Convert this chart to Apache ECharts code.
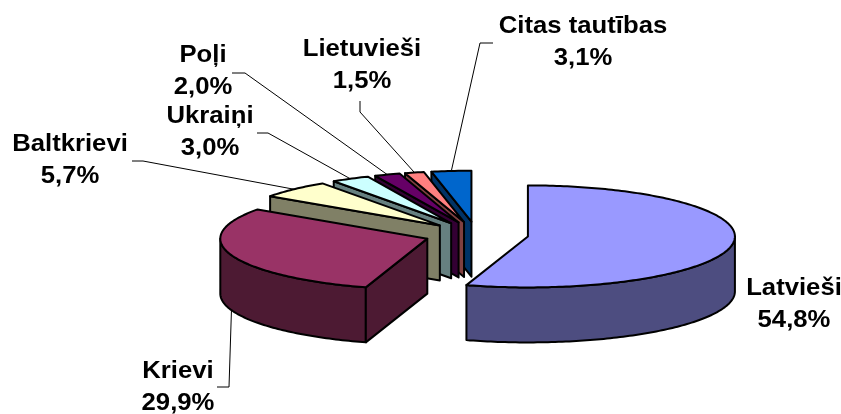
<!DOCTYPE html>
<html>
<head>
<meta charset="utf-8">
<style>
  html, body { margin: 0; padding: 0; background: #fff; }
  #chart { width: 841px; height: 414px; }
</style>
<script src="https://cdn.jsdelivr.net/npm/echarts@6/dist/echarts.min.js"></script>
</head>
<body>
<div id="chart"></div>
<script>
// data
const categories = ['Latvieši', 'Krievi', 'Baltkrievi', 'Ukraiņi', 'Poļi', 'Lietuvieši', 'Citas tautības']
const shares = [54.8, 29.9, 5.7, 3.0, 2.0, 1.5, 3.1]
const shareLabels = ['54,8%', '29,9%', '5,7%', '3,0%', '2,0%', '1,5%', '3,1%']

// colours: top of slice / its side
const topColors = ['#9999ff', '#993366', '#ffffcc', '#ccffff', '#660066', '#ff8080', '#0066cc']
const sideColors = ['#4d4d80', '#4d1a33', '#808066', '#668080', '#330033', '#804040', '#003366']

// label layout: text centre, and the leader line's free end and elbow
const labelCenters = [[794, 304], [178, 387], [70, 160.5], [210, 132], [203, 71.5], [362, 65], [583, 42]]
const leaderStarts = [null, [217, 387], [132, 161], [257, 133], [232, 73], [360, 101], [493, 43]]
const leaderElbows = [null, [229, 387], [143, 161], [268, 133], [245, 73], [360, 112], [480, 43]]

// pie geometry
const CENTER = [476.5, 234.5]
const RX = 207
const RY = 51
const DEPTH = 55
const EXPLODE = 52

const total = shares.reduce((a, b) => a + b, 0)
const startAngles = []
shares.reduce((acc, v, i) => {
  startAngles[i] = (acc / total) * 360
  return acc + v
}, 0)

// angle in degrees, clockwise from 12 o'clock
function onEllipse(c, deg, dy = 0) {
  const r = (deg * Math.PI) / 180
  return [c[0] + RX * Math.sin(r), c[1] - RY * Math.cos(r) + dy]
}

function arc(c, from, to, dy = 0) {
  const pts = []
  const steps = Math.max(2, Math.ceil(to - from))
  for (let k = 0; k <= steps; k++) {
    pts.push(onEllipse(c, from + ((to - from) * k) / steps, dy))
  }
  return pts
}

function face(points, fill, z2) {
  return {
    type: 'polygon',
    z2,
    shape: { points },
    style: { fill, stroke: '#000', lineWidth: 2, lineJoin: 'round' },
  }
}

function renderSlice(params, api) {
  const i = params.dataIndex
  const sweep = (api.value(0) / total) * 360
  const start = startAngles[i]
  const end = start + sweep
  const mid = start + sweep / 2
  const z2 = shares.length - i

  // exploded slice centre
  const r = (mid * Math.PI) / 180
  const c = [
    CENTER[0] + EXPLODE * Math.sin(r),
    CENTER[1] - EXPLODE * (RY / RX) * Math.cos(r),
  ]

  const children = []

  // outer wall, only the front half of the ellipse shows
  const wallFrom = Math.max(start, 90)
  const wallTo = Math.min(end, 270)
  if (wallTo > wallFrom) {
    const upper = arc(c, wallFrom, wallTo)
    const lower = arc(c, wallFrom, wallTo, DEPTH).reverse()
    children.push(face(upper.concat(lower), sideColors[i], z2))
  }

  // cut face
  if (start > 180 && start < 360) {
    const p = onEllipse(c, start)
    children.push(face([c, p, [p[0], p[1] + DEPTH], [c[0], c[1] + DEPTH]], sideColors[i], z2))
  }

  // top
  children.push(face([c].concat(arc(c, start, end)), topColors[i], z2))

  // leader line
  if (leaderElbows[i]) {
    const onFront = mid > 90 && mid < 270
    children.push({
      type: 'polyline',
      z2: 50,
      shape: { points: [leaderStarts[i], leaderElbows[i], onEllipse(c, mid, onFront ? DEPTH : 0)] },
      style: { fill: null, stroke: '#000', lineWidth: 1 },
    })
  }

  // label
  children.push({
    type: 'text',
    z2: 60,
    x: labelCenters[i][0],
    y: labelCenters[i][1],
    scaleX: 1.07,
    style: {
      text: categories[i] + '\n' + shareLabels[i],
      x: 0,
      y: 0,
      align: 'center',
      verticalAlign: 'middle',
      fontFamily: '"Liberation Sans", Arial, sans-serif',
      fontWeight: 'bold',
      fontSize: 24,
      lineHeight: 32,
      fill: '#000',
    },
  })

  return { type: 'group', children }
}

const chart = echarts.init(document.getElementById('chart'))
chart.setOption({
  animation: false,
  backgroundColor: '#fff',
  series: [
    {
      type: 'custom',
      coordinateSystem: 'none',
      silent: true,
      data: shares.map((v) => [v]),
      renderItem: renderSlice,
    },
  ],
})
</script>
</body>
</html>
